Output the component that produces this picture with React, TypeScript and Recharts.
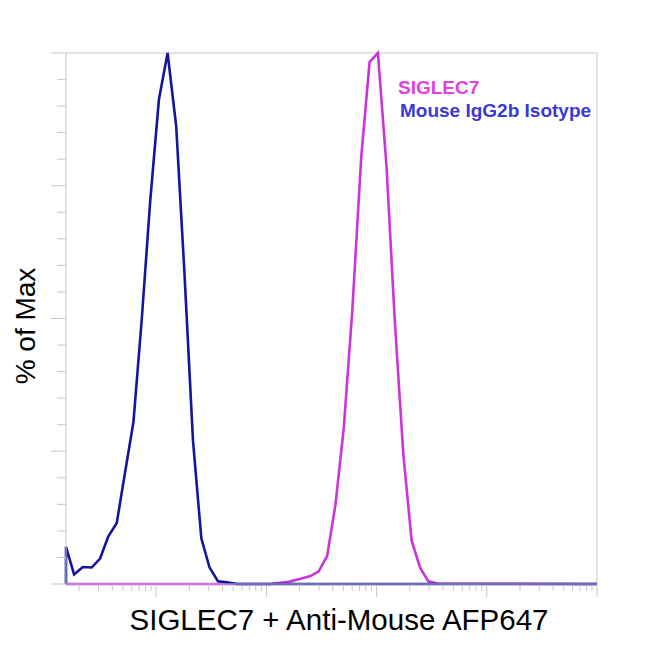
import React from 'react';
import { LineChart, Line, XAxis, YAxis, ReferenceLine, Legend, Label } from 'recharts';

// Fluorescence intensity (log scale) and % of Max values
const isotypeX = [1.52, 1.52, 1.8, 2.16, 2.6, 3.1, 3.68, 4.39, 5.22, 6.22, 7.41, 8.82, 10.6, 12.7, 15.2, 18.0, 21.6, 25.7, 30.5, 36.4, 43.9, 54.2, 100000];
const isotypeY = [0, 7.0, 1.8, 3.2, 3.1, 4.8, 9.0, 11.5, 21, 30.5, 50, 72, 91.3, 100, 86.2, 59.1, 26.9, 8.6, 3.1, 0.5, 0.3, 0, 0];

const siglecX = [1.52, 108.7, 159.6, 203.9, 251, 298.6, 356.2, 423.9, 504.5, 601.6, 725.8, 863.7, 1028, 1233, 1458, 1750, 2080, 2476, 2951, 3565, 100000];
const siglecY = [0, 0, 0.4, 1.0, 1.5, 2.4, 5.3, 15, 29.5, 51.4, 80.4, 98.3, 100, 78.4, 50.1, 24.3, 8.2, 3.1, 0.5, 0.1, 0];

const xTicks = [2, 3, 4, 5, 6, 7, 8, 9, 10, 20, 30, 40, 50, 60, 70, 80, 90, 100, 200, 300, 400, 500, 600, 700, 800, 900, 1000, 2000, 3000, 4000, 5000, 6000, 7000, 8000, 9000, 10000, 20000, 30000, 40000, 50000, 60000, 70000, 80000, 90000, 100000];
const xMajor = [10, 100, 1000, 10000, 100000];
const yTicks = [0, 5, 10, 15, 20, 25, 30, 35, 40, 45, 50, 55, 60, 65, 70, 75, 80, 85, 90, 95, 100];

const seriesNames = ['SIGLEC7', 'Mouse IgG2b Isotype'];
const xTitle = 'SIGLEC7 + Anti-Mouse AFP647';
const yTitle = '% of Max';

const isotypeData = isotypeX.map((x, i) => ({ x, y: isotypeY[i] }));
const siglecData = siglecX.map((x, i) => ({ x, y: siglecY[i] }));

const FONT = '"Liberation Sans", Arial, sans-serif';
const GRAY = '#c8c8c8';
const BLUE_LINE = '#15159e';
const MAG_LINE = '#cb33db';

const XTick = (props: any) => {
  const { x, y, payload } = props;
  const major = xMajor.includes(payload.value);
  return <line x1={x} x2={x} y1={y + 2} y2={y + (major ? 13 : 7)} stroke={GRAY} strokeWidth={1} />;
};

const YTick = (props: any) => {
  const { x, y, payload } = props;
  const major = payload.value % 25 === 0;
  return <line x1={x - (major ? 15 : 9)} x2={x} y1={y} y2={y} stroke={GRAY} strokeWidth={1} />;
};

const LegendContent = () => (
  <div style={{ fontFamily: FONT, fontWeight: 'bold', fontSize: 19, lineHeight: '23px', whiteSpace: 'nowrap' }}>
    <div style={{ color: '#e040e6' }}>{seriesNames[0]}</div>
    <div style={{ color: '#3a3ad4', marginLeft: 2 }}>{seriesNames[1]}</div>
  </div>
);

export default function App() {
  return (
    <div style={{ position: 'absolute', left: 0, top: 0, width: 650, height: 650, background: '#fff' }}>
      <LineChart width={650} height={650} margin={{ top: 53, right: 53, left: 46, bottom: 46 }}>
        <XAxis
          type="number"
          dataKey="x"
          scale="log"
          domain={[1.52, 100000]}
          ticks={xTicks}
          interval={0}
          tick={XTick}
          tickSize={0}
          tickMargin={0}
          tickLine={false}
          axisLine={{ stroke: GRAY }}
          height={20}
        >
          <Label
            content={() => (
              <text x={339} y={630} textAnchor="middle" fontFamily={FONT} fontSize={29.5} fill="#000">
                {xTitle}
              </text>
            )}
          />
        </XAxis>
        <YAxis
          type="number"
          domain={[0, 100]}
          ticks={yTicks}
          interval={0}
          tick={YTick}
          tickSize={0}
          tickMargin={0}
          tickLine={false}
          axisLine={{ stroke: GRAY }}
          width={20}
        >
          <Label
            content={() => (
              <text
                x={35}
                y={326}
                textAnchor="middle"
                fontFamily={FONT}
                fontSize={28}
                fill="#000"
                transform="rotate(-90 35 326)"
              >
                {yTitle}
              </text>
            )}
          />
        </YAxis>
        <ReferenceLine y={100} stroke={GRAY} strokeWidth={1} />
        <ReferenceLine x={100000} stroke={GRAY} strokeWidth={1} />
        <Line
          data={siglecData}
          dataKey="y"
          type="linear"
          stroke={MAG_LINE}
          strokeWidth={2.6}
          dot={false}
          activeDot={false}
          isAnimationActive={false}
        />
        <Line
          data={isotypeData}
          dataKey="y"
          type="linear"
          stroke={BLUE_LINE}
          strokeWidth={2.6}
          dot={false}
          activeDot={false}
          isAnimationActive={false}
        />
        <Legend
          layout="vertical"
          align="center"
          verticalAlign="middle"
          content={LegendContent}
          wrapperStyle={{ position: 'absolute', left: 398, top: 76, width: 240, height: 50 }}
        />
      </LineChart>
    </div>
  );
}
